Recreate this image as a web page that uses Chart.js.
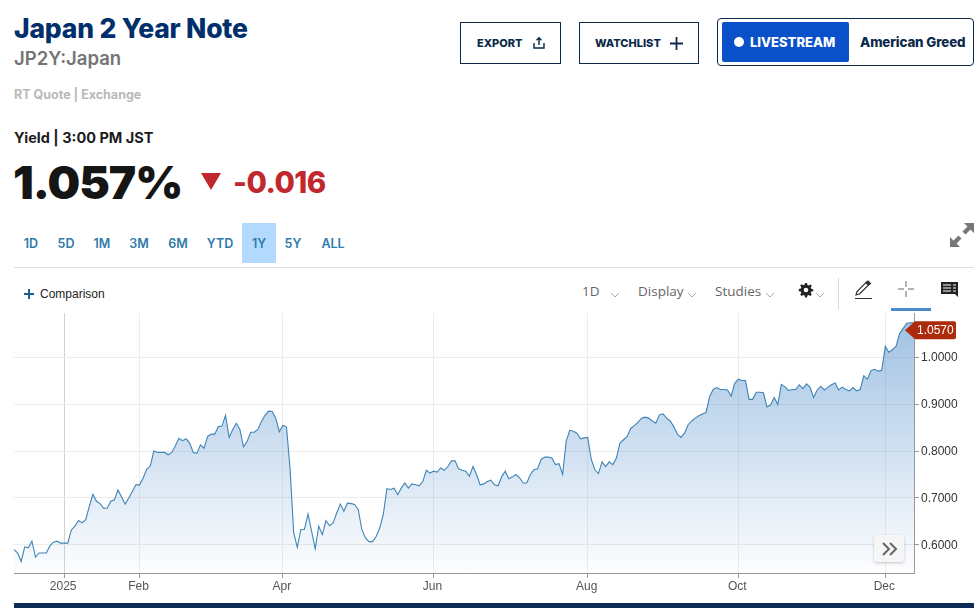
<!DOCTYPE html>
<html>
<head>
<meta charset="utf-8">
<title>Japan 2 Year Note</title>
<script src="https://cdn.jsdelivr.net/npm/chart.js@4"></script>
<style>
  html, body { margin: 0; padding: 0; background: #fff; overflow: hidden; }
  body { width: 978px; height: 615px; position: relative; font-family: Inter, Lato, sans-serif; }
  .abs { position: absolute; white-space: nowrap; }
  #title { left: 14px; top: 11px; font-size: 26.5px; font-weight: 800; color: #002f6c; line-height: 34px; letter-spacing: -0.2px; }
  #symbol { left: 14px; top: 46px; font-size: 18.5px; font-weight: 600; color: #747474; line-height: 24px; }
  #quote { left: 14px; top: 86px; font-size: 12.5px; font-weight: 700; color: #b9b9b9; line-height: 18px; }
  #yield { left: 14px; top: 128px; font-size: 14.5px; font-weight: 700; color: #1c1c1c; line-height: 20px; }
  #price { left: 13px; top: 151px; font-size: 46px; font-weight: 900; color: #151515; line-height: 62px; letter-spacing: -1px; }
  #change { left: 233px; top: 162px; font-size: 29.5px; font-weight: 800; color: #c1272d; line-height: 40px; letter-spacing: -0.5px; }
  #down { left: 201px; top: 173px; width: 0; height: 0; border-left: 10.5px solid transparent; border-right: 10.5px solid transparent; border-top: 17px solid #c1272d; }
  .btn { top: 22px; height: 40px; border: 1px solid #0b2a4a; color: #0b2a4a; font-size: 11px; font-weight: 800; line-height: 40px; box-sizing: content-box; }
  #live { left: 717px; top: 18px; width: 255px; height: 46px; border: 1px solid #0b2a4a; border-radius: 4px; }
  #liveBtn { left: 722px; top: 23px; width: 127px; height: 39px; background: #0a50c8; border-radius: 2px; color: #fff; font-size: 13px; font-weight: 800; line-height: 39px; }
  #liveDot { left: 734px; top: 37px; width: 10px; height: 10px; border-radius: 50%; background: #fff; }
  #greed { left: 860px; top: 22px; color: #0b2a4a; font-size: 13.3px; font-weight: 800; line-height: 41px; letter-spacing: -0.1px; }
  .tab { top: 224px; height: 40px; line-height: 40px; color: #2f7bab; font-size: 12.5px; font-weight: 600; text-align: center; }
  #tab1y { left: 242px; top: 223px; width: 34px; height: 40px; background: #b3d9ff; }
  #rule { left: 14px; top: 267px; width: 960px; height: 1px; background: #dedede; }
  .tool { top: 282px; font-family: "Open Sans", Lato, sans-serif; font-size: 13.5px; color: #666; line-height: 18px; }
  #comparison { left: 40px; top: 286px; font-family: "Liberation Sans", sans-serif; font-size: 12px; color: #222; line-height: 17px; }
  #toolSep { left: 838px; top: 278px; width: 1px; height: 32px; background: #d8d8d8; }
  #toolBar { left: 891px; top: 308px; width: 40px; height: 3px; background: #4a8ccb; }
  #chartBox { left: 0; top: 300px; width: 978px; height: 300px; }
  #more { left: 874px; top: 535px; width: 30px; height: 27px; background: #f6f6f6; border-radius: 3px; box-shadow: 0 1px 3px rgba(0,0,0,.22); }
  #footer { left: 14px; top: 603px; width: 960px; height: 5px; background: #0c2b57; }
  svg { position: absolute; overflow: visible; }
</style>
</head>
<body>
  <div class="abs" id="title">Japan 2 Year Note</div>
  <div class="abs" id="symbol">JP2Y:Japan</div>
  <div class="abs" id="quote">RT Quote | Exchange</div>
  <div class="abs" id="yield">Yield | 3:00 PM JST</div>
  <div class="abs" id="price">1.057%</div>
  <div class="abs" id="down"></div>
  <div class="abs" id="change">-0.016</div>

  <div class="abs btn" style="left:460px;width:99px"><span style="margin-left:16px">EXPORT</span></div>
  <svg style="left:533px;top:37px" width="12" height="12" fill="none" stroke="#0b2a4a" stroke-width="1.4"><path d="M1 6v5h10V6M6 8V1M3.500 3.300 6 .8l2.500 2.500"/></svg>
  <div class="abs btn" style="left:579px;width:118px"><span style="margin-left:15px">WATCHLIST</span></div>
  <svg style="left:670px;top:37px" width="13" height="13" stroke="#0b2a4a" stroke-width="1.8"><path d="M6.500 0v13M0 6.500h13"/></svg>
  <div class="abs" id="live"></div>
  <div class="abs" id="liveBtn" style="top:22px;height:40px;line-height:41px"><span style="margin-left:28px">LIVESTREAM</span></div>
  <div class="abs" id="liveDot"></div>
  <div class="abs" id="greed">American Greed</div>

  <div class="abs" id="tab1y"></div>
  <div class="abs tab" style="left:14px;width:34px">1D</div>
  <div class="abs tab" style="left:49px;width:34px">5D</div>
  <div class="abs tab" style="left:85px;width:34px">1M</div>
  <div class="abs tab" style="left:122px;width:34px">3M</div>
  <div class="abs tab" style="left:161px;width:34px">6M</div>
  <div class="abs tab" style="left:203px;width:34px">YTD</div>
  <div class="abs tab" style="left:242px;width:34px">1Y</div>
  <div class="abs tab" style="left:276px;width:34px">5Y</div>
  <div class="abs tab" style="left:316px;width:34px">ALL</div>
  <svg style="left:950px;top:223px" width="24" height="24" fill="#777"><path d="M14 0h10v10l-3.500-3.500-5 5-3-3 5-5zM10 24H0V14l3.500 3.500 5-5 3 3-5 5z"/></svg>
  <div class="abs" id="rule"></div>

  <svg style="left:24px;top:289px" width="10" height="10" stroke="#1f5f99" stroke-width="2"><path d="M5 0v10M0 5h10"/></svg>
  <div class="abs" id="comparison">Comparison</div>

  <div class="abs tool" style="left:582px">1D</div>
  <svg style="left:610px;top:292px" width="10" height="6" fill="none" stroke="#aaa"><path d="M1 1l4 4 4-4"/></svg>
  <div class="abs tool" style="left:638px">Display</div>
  <svg style="left:687px;top:292px" width="10" height="6" fill="none" stroke="#aaa"><path d="M1 1l4 4 4-4"/></svg>
  <div class="abs tool" style="left:715px">Studies</div>
  <svg style="left:765px;top:292px" width="10" height="6" fill="none" stroke="#aaa"><path d="M1 1l4 4 4-4"/></svg>
  <svg style="left:799px;top:283px" width="14" height="14" fill="#222"><path d="M6 0h2l.4 2 1.300.5 1.700-1.100 1.400 1.400-1.100 1.700.5 1.300 2 .4v2l-2 .4-.5 1.300 1.100 1.700-1.400 1.400-1.700-1.100-1.300.5-.4 2H6l-.4-2-1.300-.5-1.700 1.100-1.400-1.400 1.100-1.700-.5-1.300-2-.4V6l2-.4.5-1.300-1.100-1.700 1.400-1.400 1.700 1.100 1.300-.5z"/><circle cx="7" cy="7" r="2.300" fill="#fff"/></svg>
  <svg style="left:815px;top:292px" width="10" height="6" fill="none" stroke="#aaa"><path d="M1 1l4 4 4-4"/></svg>
  <div class="abs" id="toolSep"></div>
  <svg style="left:855px;top:281px" width="18" height="18" fill="none" stroke="#333" stroke-width="1.200"><path d="M1 14l1-3.500L11 1.500l2.500 2.500-9 9zM0 17.500h17"/><path d="M11 1.500l2-1.500 2.500 2.500L13.500 4z" fill="#333"/></svg>
  <svg style="left:898px;top:281px" width="16" height="16" stroke="#666"><path d="M8 0v6M8 10v6M0 8h6M10 8h6"/></svg>
  <svg style="left:941px;top:282px" width="18" height="16" fill="#222"><path d="M0 0h17v12h0v3l-3-3H0z"/><path d="M2 3h8M2 6h8M2 9h8M12 3h3M12 6h3M12 9h3" stroke="#fff" stroke-width="1"/></svg>
  <div class="abs" id="toolBar"></div>

  <div class="abs" id="chartBox"><canvas id="yieldChart" width="978" height="300"></canvas></div>

  <div class="abs" id="more"></div>
  <svg style="left:882px;top:543px" width="15" height="12" fill="none" stroke="#666" stroke-width="2"><path d="M1 0l6 6-6 6M8 0l6 6-6 6"/></svg>
  <div class="abs" id="footer"></div>

<script>
// values, one list per stretch between x axis labels
var lateDec = [0.590, 0.583, 0.565, 0.596, 0.594, 0.608, 0.574, 0.583, 0.583, 0.583, 0.598, 0.606, 0.608, 0.604];
var january = [0.604, 0.604, 0.632, 0.640, 0.652, 0.647, 0.654, 0.682, 0.708, 0.693, 0.688, 0.678, 0.678, 0.693, 0.696, 0.717, 0.702, 0.687, 0.700, 0.714, 0.728];
var febMar = [0.728, 0.742, 0.761, 0.768, 0.800, 0.797, 0.797, 0.797, 0.792, 0.797, 0.811, 0.827, 0.822, 0.826, 0.817, 0.797, 0.795, 0.813, 0.806, 0.831,
  0.836, 0.836, 0.852, 0.853, 0.876, 0.829, 0.846, 0.859, 0.846, 0.809, 0.820, 0.840, 0.840, 0.846, 0.863, 0.876, 0.885, 0.884, 0.870, 0.841];
var aprMay = [0.855, 0.851, 0.761, 0.626, 0.595, 0.633, 0.633, 0.666, 0.629, 0.592, 0.640, 0.622, 0.652, 0.641, 0.647, 0.668, 0.687, 0.672, 0.689, 0.688, 0.686,
  0.675, 0.633, 0.615, 0.607, 0.607, 0.618, 0.636, 0.665, 0.720, 0.718, 0.721, 0.707, 0.721, 0.732, 0.721, 0.730, 0.728, 0.726, 0.735, 0.759, 0.753];
var junJul = [0.757, 0.755, 0.764, 0.759, 0.767, 0.779, 0.779, 0.762, 0.759, 0.757, 0.746, 0.767, 0.750, 0.728, 0.730, 0.735, 0.738, 0.728, 0.726, 0.745, 0.757, 0.741,
  0.745, 0.750, 0.743, 0.732, 0.732, 0.750, 0.760, 0.762, 0.782, 0.787, 0.787, 0.785, 0.771, 0.773, 0.750, 0.821, 0.844, 0.842, 0.838, 0.826, 0.828];
var augSep = [0.829, 0.782, 0.760, 0.752, 0.777, 0.767, 0.777, 0.771, 0.785, 0.817, 0.824, 0.831, 0.848, 0.854, 0.861, 0.870, 0.872, 0.870, 0.864, 0.859, 0.877,
  0.879, 0.870, 0.864, 0.852, 0.836, 0.829, 0.838, 0.856, 0.864, 0.870, 0.875, 0.879, 0.882, 0.916, 0.931, 0.935, 0.931, 0.931, 0.930, 0.917, 0.944];
var octNov = [0.953, 0.950, 0.950, 0.910, 0.910, 0.925, 0.925, 0.924, 0.894, 0.898, 0.914, 0.899, 0.942, 0.937, 0.929, 0.931, 0.931, 0.941, 0.933, 0.943, 0.936,
  0.914, 0.930, 0.938, 0.930, 0.936, 0.941, 0.945, 0.930, 0.936, 0.931, 0.928, 0.935, 0.928, 0.931, 0.960, 0.953, 0.971, 0.974, 0.970, 0.972];
var december = [1.023, 1.010, 1.016, 1.023, 1.050, 1.061, 1.072, 1.073, 1.073];

var stretches = [lateDec, january, febMar, aprMay, junJul, augSep, octNov, december];
var stretchLabels = ['', '2025', 'Feb', 'Apr', 'Jun', 'Aug', 'Oct', 'Dec'];
var yTickValues = [0.6, 0.7, 0.8, 0.9, 1.0];
var lastQuote = 1.057;

var values = [];
var categories = [];
stretches.forEach(function (list, i) {
  list.forEach(function (v, j) {
    values.push(v);
    categories.push(j === 0 ? stretchLabels[i] : '');
  });
});

// red tag with the last price, on the right axis
var lastPriceTag = {
  id: 'lastPriceTag',
  afterDraw: function (chart) {
    var c = chart.ctx;
    var y = chart.scales.y.getPixelForValue(lastQuote);
    c.save();
    c.fillStyle = '#ac2b0d';
    c.beginPath();
    c.moveTo(905, y);
    c.lineTo(915, y - 9);
    c.lineTo(954, y - 9);
    c.quadraticCurveTo(956, y - 9, 956, y - 7);
    c.lineTo(956, y + 7);
    c.quadraticCurveTo(956, y + 9, 954, y + 9);
    c.lineTo(915, y + 9);
    c.closePath();
    c.fill();
    c.fillStyle = '#fff';
    c.font = '12px "Liberation Sans", Arial, sans-serif';
    c.textAlign = 'left';
    c.textBaseline = 'middle';
    c.fillText(lastQuote.toFixed(4), 917, y + 0.5);
    c.restore();
  }
};

var ctx = document.getElementById('yieldChart').getContext('2d');
var chart = new Chart(ctx, {
  type: 'line',
  plugins: [lastPriceTag],
  data: {
    labels: categories,
    datasets: [{
      data: values,
      borderColor: '#3f84b5',
      borderWidth: 1.1,
      pointRadius: 0,
      tension: 0,
      fill: 'start',
      backgroundColor: function (context) {
        var area = context.chart.chartArea;
        if (!area) return 'rgba(70,135,200,0.3)';
        var g = context.chart.ctx.createLinearGradient(0, area.top + 10, 0, area.bottom);
        g.addColorStop(0, 'rgba(70,135,200,0.5)');
        g.addColorStop(1, 'rgba(70,135,200,0.01)');
        return g;
      }
    }]
  },
  options: {
    responsive: false,
    animation: false,
    layout: { padding: { left: 14, top: 13, right: 4, bottom: 0 } },
    plugins: { legend: { display: false }, tooltip: { enabled: false } },
    scales: {
      x: {
        afterBuildTicks: function (scale) {
          scale.ticks = scale.ticks.filter(function (t) { return categories[t.value] !== ''; });
        },
        afterFit: function (scale) { scale.height = 27; },
        ticks: {
          autoSkip: false,
          maxRotation: 0,
          padding: 1,
          labelOffset: -1,
          color: '#555',
          font: { family: '"Liberation Sans", Arial, sans-serif', size: 12 }
        },
        grid: {
          color: function (c) { return c.index === 0 ? '#d2d2d2' : '#ececec'; },
          tickColor: '#999',
          tickLength: 5
        },
        border: { color: '#999' }
      },
      y: {
        position: 'right',
        min: 0.5403,
        max: 1.0938,
        afterBuildTicks: function (scale) {
          scale.ticks = yTickValues.map(function (v) { return { value: v }; });
        },
        afterFit: function (scale) { scale.width = 60; },
        ticks: {
          padding: 2,
          labelOffset: 1,
          color: '#333',
          font: { family: '"Liberation Sans", Arial, sans-serif', size: 12 },
          callback: function (v) { return v.toFixed(4); }
        },
        grid: { color: '#ececec', tickColor: '#999', tickLength: 5 },
        border: { color: '#999' }
      }
    }
  }
});
</script>
</body>
</html>
